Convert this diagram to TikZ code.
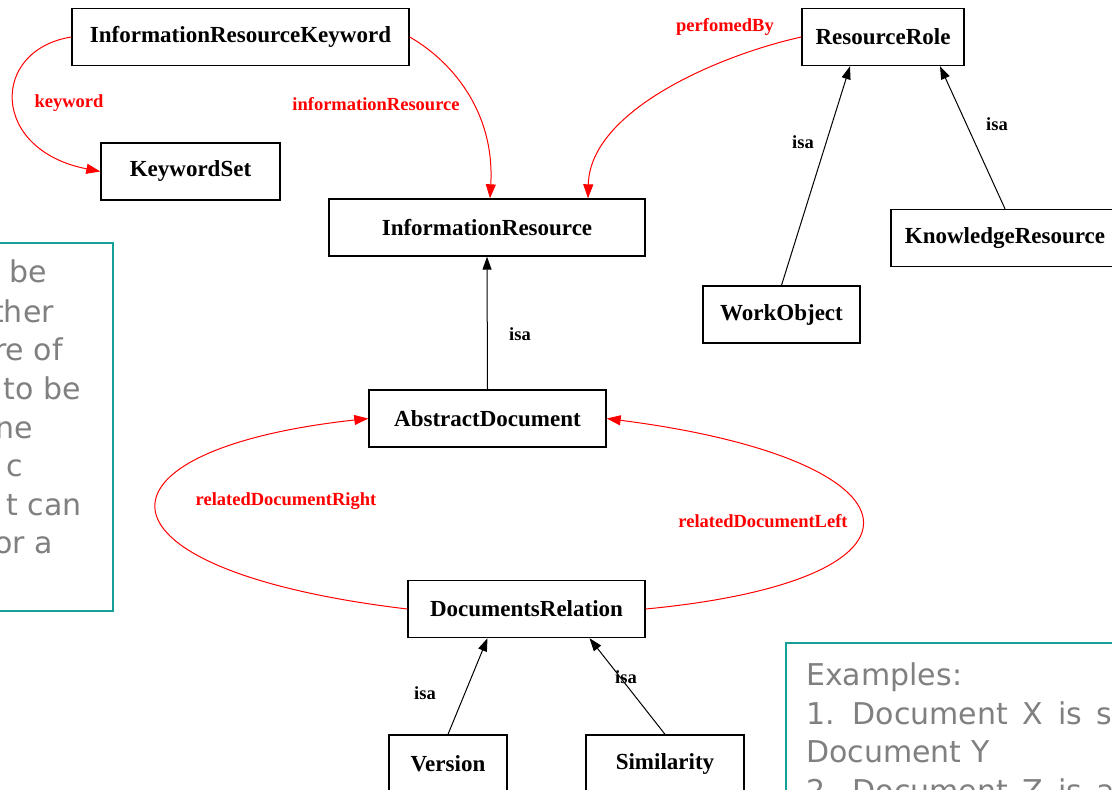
\documentclass[tikz,border=0pt]{standalone}
\usepackage{fontspec}
\setmainfont{Liberation Serif}
\newfontfamily\slidefont{DejaVu Sans}
\usetikzlibrary{arrows.meta,calc}
\definecolor{noteteal}{RGB}{22,158,153}
\definecolor{notegray}{RGB}{128,128,128}
\newcommand\widespaces{\spaceskip=0.49em plus 0.1em\relax}
\begin{document}
\begin{tikzpicture}[x=1pt,y=-1pt,
  cls/.style={draw=black,line width=1.4pt,fill=white,minimum height=57pt,inner sep=0pt,font=\fontsize{23}{26}\selectfont\bfseries},
  reledge/.style={draw=red,line width=1pt,-{Triangle[length=14pt,width=10pt]}},
  isaedge/.style={draw=black,line width=1pt,-{Triangle[length=13pt,width=9pt]}},
  rlab/.style={text=red,inner sep=0pt,font=\fontsize{18.5}{20}\selectfont\bfseries},
  ilab/.style={text=black,inner sep=0pt,font=\fontsize{18.5}{20}\selectfont\bfseries},
  noteframe/.style={draw=noteteal,line width=2pt},
  notetext/.style={text=notegray,inner sep=0pt,font=\slidefont\fontsize{30}{38}\selectfont}
]
\useasboundingbox (0,0) rectangle (1112,790);
\clip (0,0) rectangle (1112,790);
\fill[white] (0,0) rectangle (1112,790);

% note boxes
\draw[noteframe] (-20,243) rectangle (113,611);
\node[notetext,anchor=base east] (l1) at (47,282) {be};
\node[notetext,anchor=base east] (l2) at (54,322) {ther};
\node[notetext,anchor=base east] (l3) at (63,360) {re of};
\node[notetext,anchor=base east] (l4) at (81,399) {to be};
\node[notetext,anchor=base east] (l5) at (33,438) {ne};
\node[notetext,anchor=base east] (l6) at (23,476) {c};
\node[notetext,anchor=base east] (l7) at (82,515) {t can};
\node[notetext,anchor=base east] (l8) at (53,553) {or a};

\draw[noteframe] (786,643) rectangle (1130,810);
\node[notetext,anchor=base west] (e1) at (806,685) {Examples:};
\node[notetext,anchor=base west] (e2) at (806,724) {\widespaces 1. Document X is s};
\node[notetext,anchor=base west] (e3) at (806,762) {Document Y};
\node[notetext,anchor=base west] (e4) at (806,801) {\widespaces 2. Document Z is a};

% classes
\node[cls,minimum width=337pt] (irk) at (240.5,37) {InformationResourceKeyword};
\node[cls,minimum width=179pt] (ks) at (190.5,171.5) {KeywordSet};
\node[cls,minimum width=316pt] (ir) at (487,227.5) {InformationResource};
\node[cls,minimum width=162pt] (rr) at (883,37) {ResourceRole};
\node[cls,minimum width=228pt] (kr) at (1005,238) {KnowledgeResource};
\node[cls,minimum width=157pt] (wo) at (781.5,314.5) {WorkObject};
\node[cls,minimum width=237pt] (ad) at (487.5,418.5) {AbstractDocument};
\node[cls,minimum width=237pt] (dr) at (526.5,609) {DocumentsRelation};
\node[cls,minimum width=118pt] (ver) at (448,763.5) {Version};
\node[cls,minimum width=158pt] (sim) at (665,763.5) {Similarity};

% relations
\draw[reledge] (irk.west) .. controls (-10,50) and (-10,150) .. (ks.west);
\draw[reledge] (irk.east) .. controls (450,60) and (495,110) .. ($(ir.north)+(3,0)$);
\draw[reledge] (rr.west) .. controls (720,55) and (590,110) .. ($(ir.north)+(101,0)$);
\draw[reledge] (dr.west) .. controls (80,570) and (80,450) .. (ad.west);
\draw[reledge] (dr.east) .. controls (950,580) and (930,460) .. (ad.east);

\draw[isaedge] (wo.north) -- ($(rr.south)+(-33,0)$);
\draw[isaedge] (kr.north) -- ($(rr.south)+(57,0)$);
\draw[isaedge] (ad.north) -- (ir.south);
\draw[isaedge] (ver.north) -- ($(dr.south)+(-39,0)$);
\draw[isaedge] (sim.north) -- ($(dr.south)+(63,0)$);

% labels
\node[rlab] (lkw) at (69,103) {keyword};
\node[rlab] (lir) at (376,104) {informationResource};
\node[rlab] (lpb) at (725,27) {perfomedBy};
\node[rlab] (lrdr) at (286,501) {relatedDocumentRight};
\node[rlab] (lrdl) at (763,521) {relatedDocumentLeft};
\node[ilab] (i1) at (803,142) {isa};
\node[ilab] (i2) at (997,124) {isa};
\node[ilab] (i3) at (520,334) {isa};
\node[ilab] (i4) at (425,693) {isa};
\node[ilab] (i5) at (626,677) {isa};
\end{tikzpicture}
\end{document}
